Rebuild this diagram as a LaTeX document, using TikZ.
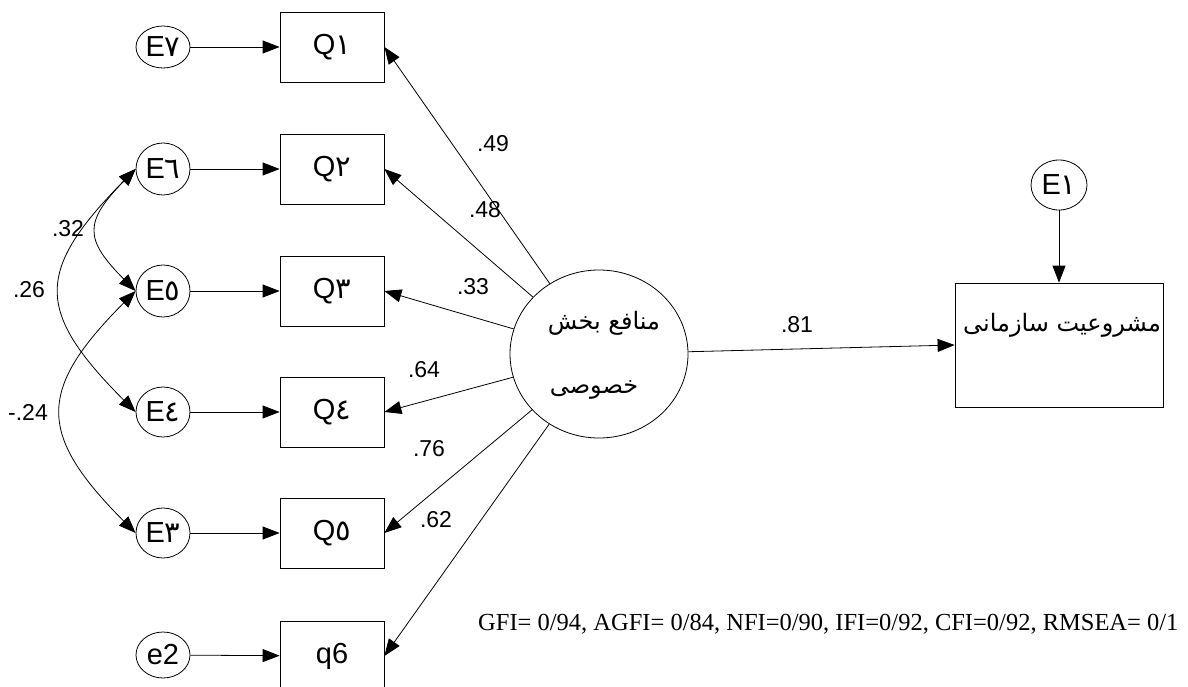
\documentclass[tikz,border=0pt]{standalone}
\usepackage{fontspec}
\setmainfont{Liberation Sans}
\newfontfamily\arabicfont[Script=Arabic]{DejaVu Sans}
\newfontfamily\timesfont{Liberation Serif}
\TeXXeTstate=1
\usetikzlibrary{arrows.meta,shapes.geometric}
\newcommand{\ardig}[1]{{\arabicfont #1}}
\begin{document}
\begin{tikzpicture}[x=1pt,y=-1pt,
  every node/.style={inner sep=0pt},
  errc/.style={draw,ellipse,minimum width=54pt,minimum height=50pt,font=\fontsize{29}{29}\selectfont,line width=0.8pt},
  obsbox/.style={draw,rectangle,minimum width=104pt,minimum height=70pt,font=\fontsize{29}{29}\selectfont,line width=0.8pt},
  latc/.style={draw,ellipse,minimum width=178pt,minimum height=168pt,line width=0.8pt},
  endbox/.style={draw,rectangle,minimum width=208pt,minimum height=124pt,line width=0.8pt},
  arr/.style={-{Triangle[length=17pt,width=13pt]},line width=0.8pt},
  cov/.style={{Triangle[length=17pt,width=13pt]}-{Triangle[length=17pt,width=13pt]},line width=0.8pt},
  coef/.style={font=\fontsize{23}{23}\selectfont},
  fa/.style={font=\arabicfont\fontsize{24}{24}\selectfont}
]
\useasboundingbox (0,0) rectangle (1188,687);

% error terms
\node[errc,minimum height=42pt] (E7) at (163,47)  {E\ardig{٧}};
\node[errc,minimum height=52pt] (E6) at (163,169) {E\ardig{٦}};
\node[errc,minimum height=52pt] (E5) at (163,291) {E\ardig{٥}};
\node[errc] (E4) at (163,412) {E\ardig{٤}};
\node[errc] (E3) at (163,533) {E\ardig{٣}};
\node[errc,minimum height=46pt] (e2) at (163,655) {e2};

% observed
\node[obsbox] (Q1) at (332,47)  {Q\ardig{١}};
\node[obsbox] (Q2) at (332,169) {Q\ardig{٢}};
\node[obsbox] (Q3) at (332,291) {Q\ardig{٣}};
\node[obsbox] (Q4) at (332,412) {Q\ardig{٤}};
\node[obsbox] (Q5) at (332,533) {Q\ardig{٥}};
\node[obsbox] (q6) at (332,656) {q6};

% latent
\node[latc] (L) at (599,354) {};
\node[fa] (Lt1) at (604,323) {\beginR منافع بخش\endR};
\node[fa] (Lt2) at (594,390) {\beginR خصوصی\endR};

% endogenous
\node[endbox] (R) at (1059,345) {};
\node[fa] (Rt) at (1062,325) {\beginR مشروعیت سازمانی\endR};
\node[errc,minimum width=56pt] (E1) at (1059,185) {E\ardig{١}};

% error arrows
\draw[arr] (E7) -- (Q1);
\draw[arr] (E6) -- (Q2);
\draw[arr] (E5) -- (Q3);
\draw[arr] (E4) -- (Q4);
\draw[arr] (E3) -- (Q5);
\draw[arr] (e2) -- (q6);
\draw[arr] (E1) -- (R);

% loadings
\draw[arr] (L) -- (Q1.east);
\draw[arr] (L) -- (Q2.east);
\draw[arr] (L) -- (Q3.east);
\draw[arr] (L) -- (Q4.east);
\draw[arr] (L) -- (Q5.east);
\draw[arr] (L) -- (q6.east);
\draw[arr] (L) -- (R.west);

% covariances
\draw[cov] (E6.west) .. controls (84,222) and (84,239) .. (E5.west);
\draw[cov] (E6.west) .. controls (35,271) and (35,311) .. (E4.west);
\draw[cov] (E5.west) .. controls (37,390) and (37,434) .. (E3.west);

% coefficients
\node[coef] (c49) at (493,144) {.49};
\node[coef] (c48) at (485,210) {.48};
\node[coef] (c33) at (473,287) {.33};
\node[coef] (c64) at (424,370) {.64};
\node[coef] (c76) at (429,449) {.76};
\node[coef] (c62) at (436,520) {.62};
\node[coef] (c81) at (797,325) {.81};
\node[coef] (c32) at (68,229) {.32};
\node[coef] (c26) at (29,290) {.26};
\node[coef] (c24) at (28,412) {-.24};

% fit indices
\node[anchor=base west,font=\timesfont\fontsize{24.5}{29}\selectfont] (fit) at (478,630)
  {GFI= 0/94, AGFI= 0/84, NFI=0/90, IFI=0/92, CFI=0/92, RMSEA= 0/1};
\end{tikzpicture}
\end{document}
